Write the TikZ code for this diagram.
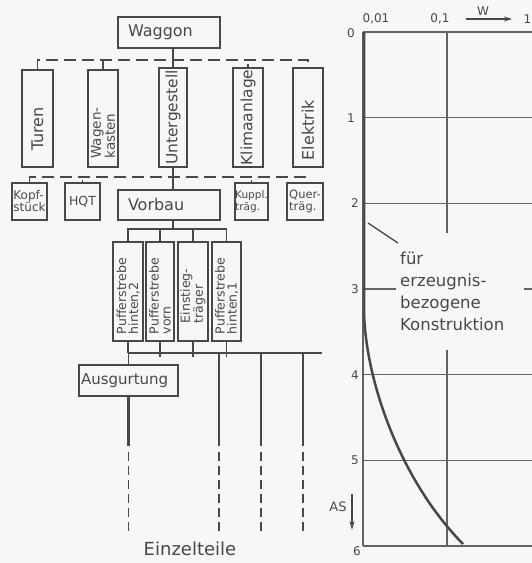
\documentclass[tikz,border=0pt]{standalone}
\usepackage{fontspec}
\setmainfont{DejaVu Sans}
\usetikzlibrary{arrows.meta}
\definecolor{ink}{HTML}{484848}
\definecolor{paper}{HTML}{F7F7F5}
\newcommand{\fsz}[2]{\fontsize{#1}{#2}\selectfont}
\begin{document}
\begin{tikzpicture}[x=1pt,y=-1pt,
  every node/.style={text=ink, inner sep=0pt},
  box/.style={draw=ink, line width=1.8pt, rectangle, inner sep=0pt},
  hbox/.style={box, line width=2.3pt},
  vt/.style={rotate=90, align=left},
  dsh/.style={draw=ink, line width=1.4pt, dash pattern=on 12pt off 6pt},
  con/.style={draw=ink, line width=1.3pt},
  thk/.style={draw=ink, line width=2.5pt},
  ddsh/.style={draw=ink, line width=1.2pt, dash pattern=on 9pt off 5pt},
  gridline/.style={draw=ink!85, line width=1.4pt},
  lab/.style={font=\fsz{12}{12}},
]
\fill[paper] (0,0) rectangle (532,563);
\useasboundingbox (0,0) rectangle (532,563);

% ---------- tree ----------
\node[box, minimum width=102, minimum height=31, text width=82, inner xsep=10, align=left, font=\fsz{16}{16}] (waggon) at (169,32.5) {Waggon};

\node[box, minimum width=31, minimum height=97] (turen) at (37.5,118.5) {};
\node[box, minimum width=30, minimum height=97] (wagen) at (103,118.5) {};
\node[box, minimum width=28, minimum height=99] (unter) at (173,117.5) {};
\node[box, minimum width=30, minimum height=99] (klima) at (248,117.5) {};
\node[box, minimum width=30, minimum height=99] (elek) at (308,117.5) {};

\node[vt, font=\fsz{16}{16}] (turent) at (37.5,129) {Turen};
\node[vt, font=\fsz{13.5}{12.5}] (wagent) at (103,133) {Wagen-\\kasten};
\node[vt, font=\fsz{15.5}{16}] (untert) at (173,117.5) {Untergestell};
\node[vt, font=\fsz{15.5}{16}] (klimat) at (248,117.5) {Klimaanlage};
\node[vt, font=\fsz{16}{16}] (elekt) at (308,130) {Elektrik};

\node[box, minimum width=35, minimum height=37, align=left, font=\fsz{12}{12}] (kopf) at (29.5,201.5) {Kopf-\\stück};
\node[box, minimum width=35, minimum height=37, font=\fsz{12.5}{12}] (hqt) at (82.5,201.5) {HQT};
\node[box, minimum width=102, minimum height=30, text width=82, inner xsep=10, align=left, font=\fsz{16}{16}] (vorbau) at (169,205) {Vorbau};
\node[box, minimum width=33, minimum height=37, align=left, font=\fsz{10.5}{12}] (kuppl) at (251.5,201.5) {Kuppl.\\träg.};
\node[box, minimum width=36, minimum height=37, align=left, font=\fsz{11.5}{12}] (quer) at (305,201.5) {Quer-\\träg.};

\node[hbox, minimum width=30, minimum height=99] (pa) at (128,291.5) {};
\node[hbox, minimum width=28, minimum height=99] (pb) at (160,291.5) {};
\node[hbox, minimum width=30, minimum height=99] (pc) at (193,291.5) {};
\node[hbox, minimum width=29, minimum height=99] (pd) at (226.5,291.5) {};
\node[vt, font=\fsz{12.5}{12}] (pat) at (128,296) {Pufferstrebe\\hinten,2};
\node[vt, font=\fsz{12.5}{12}] (pbt) at (160,296) {Pufferstrebe\\vorn};
\node[vt, font=\fsz{12.5}{12}] (pct) at (193,296) {Einstieg-\\träger};
\node[vt, font=\fsz{12.5}{12}] (pdt) at (226.5,296) {Pufferstrebe\\hinten,1};

\node[box, minimum width=99, minimum height=31, text width=95, inner xsep=2, align=left, font=\fsz{15}{15}] (ausg) at (128.5,380.5) {Ausgurtung};

\node[font=\fsz{18}{18}] (einz) at (190,549) {Einzelteile};

% buses
\coordinate (b1) at (173,60);
\coordinate (b2) at (173,177);
\coordinate (b3) at (173,229);
\coordinate (b4) at (322,353);

\draw[dsh] (turen.north) |- (b1) -| (elek.north);
\draw[con] (unter.north |- waggon.south) -- (unter.north);
\draw[con] (wagen.north) -- (wagen.north |- b1);
\draw[con] (klima.north) -- ([yshift=-4pt]klima.north |- b1);

\draw[dsh] (kopf.north) |- (b2) -| (quer.north);
\draw[con] (unter.south) -- (unter.south |- vorbau.north);
\draw[con] (hqt.north) -- ([yshift=-3pt]hqt.north |- b2);
\draw[con] (kuppl.north) -- ([yshift=-3pt]kuppl.north |- b2);

\draw[con] (b3 |- vorbau.south) -- (b3);
\draw[con] (pa.north) |- (pd.north |- b3) -- (pd.north);
\draw[con] (pb.north) -- (pb.north |- b3);
\draw[con] (pc.north) -- (pc.north |- b3);

\draw[con] (pa.south) -- (pa.south |- b4);
\draw[con] (pb.south) -- ([yshift=-4pt]pb.south |- b4);
\draw[con] (pc.south) -- ([yshift=-4pt]pc.south |- b4);
\draw[con] (pd.south) -- ([yshift=-4pt]pd.south |- b4);
\draw[thk] (pa.south |- b4) -- (b4);
\draw[con] (ausg.north) -- (ausg.north |- b4);

\coordinate (a0) at (128.5,446); \coordinate (a1) at (128.5,452); \coordinate (a2) at (128.5,533);
\draw[thk] (ausg.south) -- (a0);
\draw[ddsh] (a1) -- (a2);
\foreach \n/\x in {s/219,t/261,u/303}{
  \coordinate (\n0) at (\x,353);
  \coordinate (\n1) at (\x,446);
  \coordinate (\n2) at (\x,452);
  \coordinate (\n3) at (\x,533);
  \draw[thk] (\n0) -- (\n1);
  \draw[ddsh] (\n2) -- (\n3);
}

% ---------- chart ----------
\foreach \y in {32,117.7,203.3,289,374.7,460.3,546}{
  \draw[gridline] (363,\y) -- (540,\y);
}
\draw[gridline] (447,32) -- (447,546);
\draw[gridline] (363,32) -- (363,546);

\coordinate (c0) at (364,32);
\coordinate (c1) at (364,310);
\coordinate (c2) at (463,544);
\draw[thk] (c0) -- (c1) .. controls (365,380) and (400,480) .. (c2);

\node[anchor=north west, fill=paper, inner xsep=4pt, inner ysep=19pt, text width=120pt, align=left, font=\fsz{16.5}{22}] (fur) at (396,233) {für\\erzeugnis-\\bezogene\\Konstruktion};
\coordinate (l0) at (368,223);
\coordinate (l1) at (398,243);
\draw[con] (l0) -- (l1);

\node[lab, anchor=east] (r0) at (355,33) {0};
\node[lab, anchor=east] (r1) at (355,117.7) {1};
\node[lab, anchor=east] (r2) at (359,203.3) {2};
\node[lab, anchor=east] (r3) at (359,289) {3};
\node[lab, anchor=east] (r4) at (359,374.7) {4};
\node[lab, anchor=east] (r5) at (359,460.3) {5};
\node[lab, anchor=east] (r6) at (361,551) {6};

\node[lab] (x1) at (376,19) {0,01};
\node[lab] (x2) at (440,19) {0,1};
\node[lab, anchor=east] (x3) at (531.5,19) {1};
\node[lab] (wl) at (483,11) {W};
\coordinate (w0) at (466,19); \coordinate (w1) at (512,19);
\draw[con, -{Stealth[length=8pt,width=5pt]}] (w0) -- (w1);

\node[font=\fsz{13}{13}] (as) at (338,507) {AS};
\coordinate (as0) at (352,494); \coordinate (as1) at (352,530);
\draw[con, -{Stealth[length=9pt,width=5pt]}] (as0) -- (as1);
\end{tikzpicture}
\end{document}
